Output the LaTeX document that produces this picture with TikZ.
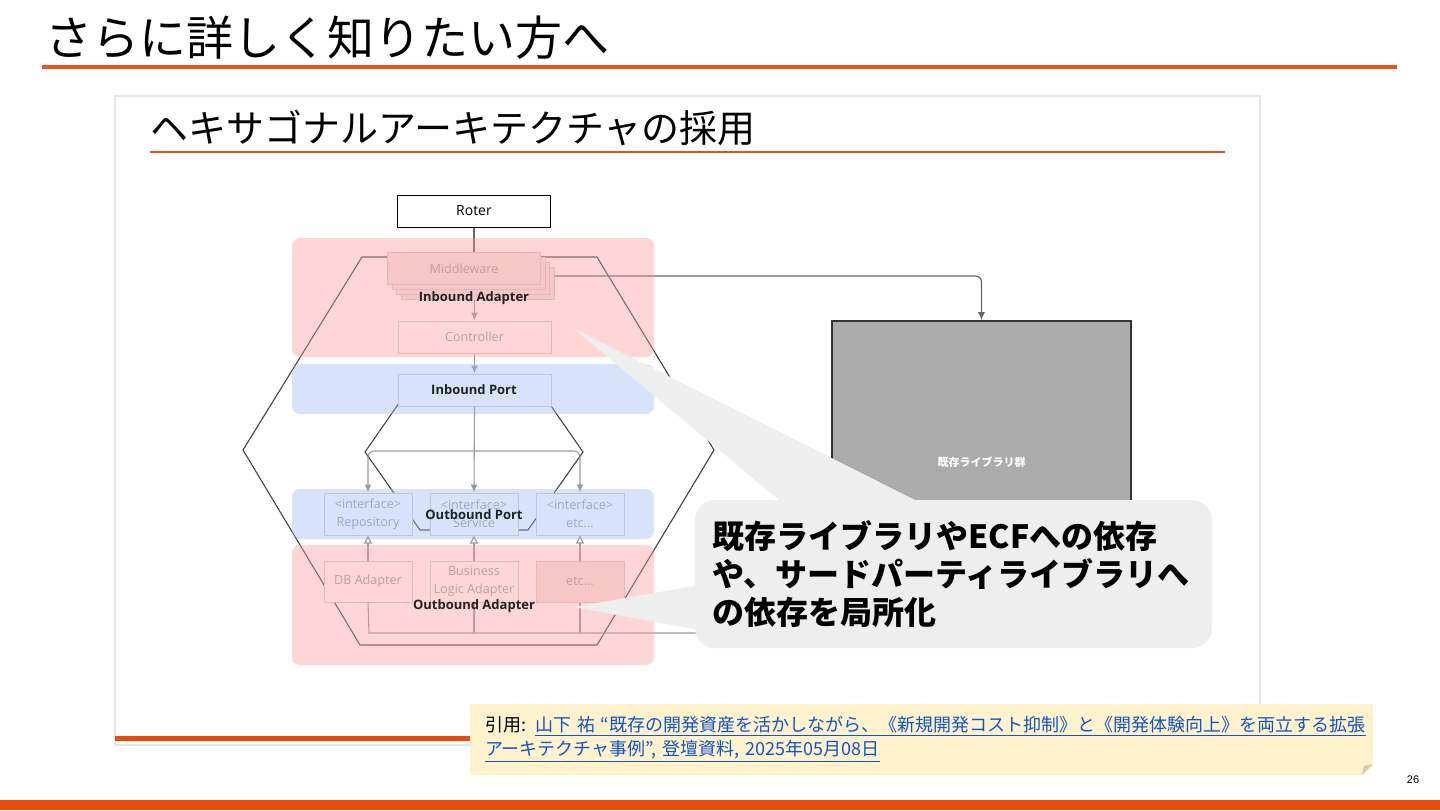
\documentclass[tikz,border=0pt]{standalone}
\usepackage{fontspec}
\setmainfont{Noto Sans CJK JP}
\newfontfamily\diagfont{Open Sans}
\newfontfamily\numfont{Liberation Sans}
\usetikzlibrary{arrows.meta,positioning}
\definecolor{accent}{HTML}{E8531D}
\definecolor{barorange}{HTML}{E84B0E}
\definecolor{pinkbase}{HTML}{FF9999}
\definecolor{bluebase}{HTML}{99BBF5}
\definecolor{mwfill}{HTML}{F5E5E5}
\definecolor{boxedge}{HTML}{D0D0D0}
\definecolor{fadetext}{HTML}{A0A0A0}
\definecolor{hexgray}{HTML}{444444}
\definecolor{conngray}{HTML}{9A9A9A}
\definecolor{linkgray}{HTML}{666666}
\definecolor{labeldark}{HTML}{222222}
\definecolor{libgray}{HTML}{ABABAB}
\definecolor{callgray}{HTML}{EEEEEE}
\definecolor{citebg}{HTML}{FFF2CC}
\definecolor{foldtan}{HTML}{D9CDA8}
\definecolor{linkblue}{HTML}{1155CC}
\definecolor{framegray}{HTML}{E3E6EA}
\tikzset{
  slidetitle/.style={anchor=west, inner sep=0pt, font=\fontsize{23.5}{28}\selectfont},
  subtitle/.style={anchor=west, inner sep=0pt, font=\fontsize{19}{23}\selectfont},
  band/.style={rectangle, rounded corners=4pt, minimum width=181pt, inner sep=0pt, fill opacity=0.4},
  adband/.style={band, fill=pinkbase},
  portband/.style={band, fill=bluebase},
  comp/.style={rectangle, draw=boxedge, fill=white, line width=0.5pt, text=fadetext, align=center, inner sep=0pt, font=\diagfont\fontsize{6.3}{9}\selectfont},
  wide/.style={comp, minimum width=76.5pt, minimum height=16pt},
  slim/.style={comp, minimum width=44pt, minimum height=21pt},
  layer/.style={inner sep=0pt, text=labeldark, font=\diagfont\bfseries\fontsize{6.5}{8}\selectfont},
  hexline/.style={draw=hexgray, line width=0.55pt},
  line/.style={draw=conngray, line width=0.55pt},
  conn/.style={line, -{Latex[length=4pt,width=3.5pt]}},
  realize/.style={line, -{Triangle[open,length=4pt,width=4pt]}},
  link/.style={draw=linkgray, line width=0.6pt},
  libarrow/.style={link, -{Latex[length=4pt,width=3.5pt]}},
  callout/.style={rectangle, rounded corners=10pt, fill=callgray, minimum width=258.5pt, minimum height=74pt, text width=241pt, inner xsep=8.5pt, align=left, font=\bfseries\fontsize{16}{19}\selectfont},
  cite/.style={rectangle, fill=citebg, minimum width=451.5pt, minimum height=35.5pt, text width=436.5pt, align=left, font=\fontsize{9}{12}\selectfont}
}
\begin{document}
\begin{tikzpicture}[x=0.5pt, y=-0.5pt]
\useasboundingbox (0,0) rectangle (1440,810);
\fill[white] (0,0) rectangle (1440,810);
% slide header
\node[slidetitle] (title) at (45,38) {さらに詳しく知りたい方へ};
\draw[accent, line width=1.75pt] (42,67) -- (1397,67);
\fill[barorange] (0,800) rectangle (1440,810);
\node[font=\numfont\fontsize{5.5}{6}\selectfont] (pageno) at (1413,780) {26};

% embedded slide
\draw[framegray, line width=0.6pt] (115,96) rectangle (1260,745);
\node[subtitle] (subtitle) at (150,128) {ヘキサゴナルアーキテクチャの採用};
\draw[accent, line width=1pt] (150,152) -- (1225,152);
\draw[barorange, line width=2.5pt] (115,738) -- (470,738);

% hexagons
\draw[hexline] (362,257) -- (597,257) -- (714,450) -- (597,645) -- (360,645) -- (243,450) -- cycle;
\draw[hexline] (415,380) -- (533,380) -- (583,452) -- (528,530) -- (420,530) -- (365,452) -- cycle;

% components
\node[wide, draw=black, text=black, font=\diagfont\fontsize{7}{9}\selectfont] (roter) at (474,211) {Roter};
\foreach \k in {3,2,1}
  \node[wide, fill=mwfill] (mwb\k) at ({464+4.5*\k},{268.5+5*\k}) {};
\node[wide, fill=mwfill] (mw) at (464,268.5) {Middleware};
\node[wide] (ctrl) at (474.5,337) {Controller};
\node[wide] (inport) at (474.5,390) {};
\node[slim] (service) at (474,514) {<interface>\\Service};
\node[slim, left=8.5pt of service] (repo) {<interface>\\Repository};
\node[slim, right=8.5pt of service] (etcif) {<interface>\\etc...};
\node[slim, below=12.5pt of repo, minimum height=20.5pt] (dba) {DB Adapter};
\node[slim, below=12.5pt of service, minimum height=20.5pt] (bla) {Business\\Logic Adapter};
\node[slim, below=12.5pt of etcif, minimum height=20.5pt, fill=mwfill] (etca) {etc...};
\node[rectangle, draw=black!80, line width=0.8pt, fill=libgray, minimum width=149.5pt, minimum height=141pt,
  text=white, font=\bfseries\fontsize{5.5}{7}\selectfont] (lib) at (981.5,462) {既存ライブラリ群};

% connectors
\draw[link] (roter.south) -- (roter.south |- mw.north);
\draw[conn] (mwb3.south -| ctrl.north) -- (ctrl.north);
\draw[conn] (ctrl.south) -- (inport.north);
\draw[libarrow, rounded corners=3pt] ([yshift=-4.5pt]mwb3.north east) -| (lib.north);
\coordinate (fork) at (474,451);
\draw[conn] (inport.south) -- (service.north);
\draw[conn, rounded corners=3pt] (fork) -| (repo.north);
\draw[conn, rounded corners=3pt] (fork) -| (etcif.north);
\draw[realize] (dba.north) -- (repo.south);
\draw[realize] (bla.north) -- (service.south);
\draw[realize] (etca.north) -- (etcif.south);
\coordinate (bus) at (369,633);
\draw[line, -{Latex[length=4pt,width=3.5pt]}] (dba.south) -- (bus) -| (lib.south);
\draw[line] (bla.south) -- (bla.south |- bus);
\draw[line] (etca.south) -- (etca.south |- bus);

% layers
\node[adband, minimum height=59.5pt] (inadapter) at (473,297.5) {};
\node[portband, minimum height=25pt] (inportband) at (473,389) {};
\node[portband, minimum height=25pt] (outportband) at (473,514) {};
\node[adband, minimum height=60pt] (outadapter) at (473,605) {};
\node[layer] at (474,298) {Inbound Adapter};
\node[layer] at (474,390) {Inbound Port};
\node[layer] at (474,515) {Outbound Port};
\node[layer] at (474,606) {Outbound Adapter};

% callout
\fill[callgray] (573,328) -- (785,505) -- (925,505) -- cycle;
\fill[callgray] (573,607) -- (700,585) -- (700,630) -- cycle;
\node[callout] (note) at (953.5,574) {既存ライブラリやECFへの依存\\や、サードパーティライブラリへ\\の依存を局所化};

% citation
\node[cite] (ref) at (921.5,739.5) {引用: \textcolor{linkblue}{\underline{山下 祐 “既存の開発資産を活かしながら、《新規開発コスト抑制》と《開発体験向上》を両立する拡張}}\\
  \textcolor{linkblue}{\underline{アーキテクチャ事例”, 登壇資料, 2025年05月08日}}};
\fill[white] (1362,775) -- (1373,775) -- (1373,764) -- cycle;
\fill[foldtan] (1362,775) -- (1373,764) -- (1364,766) -- cycle;
\end{tikzpicture}
\end{document}
